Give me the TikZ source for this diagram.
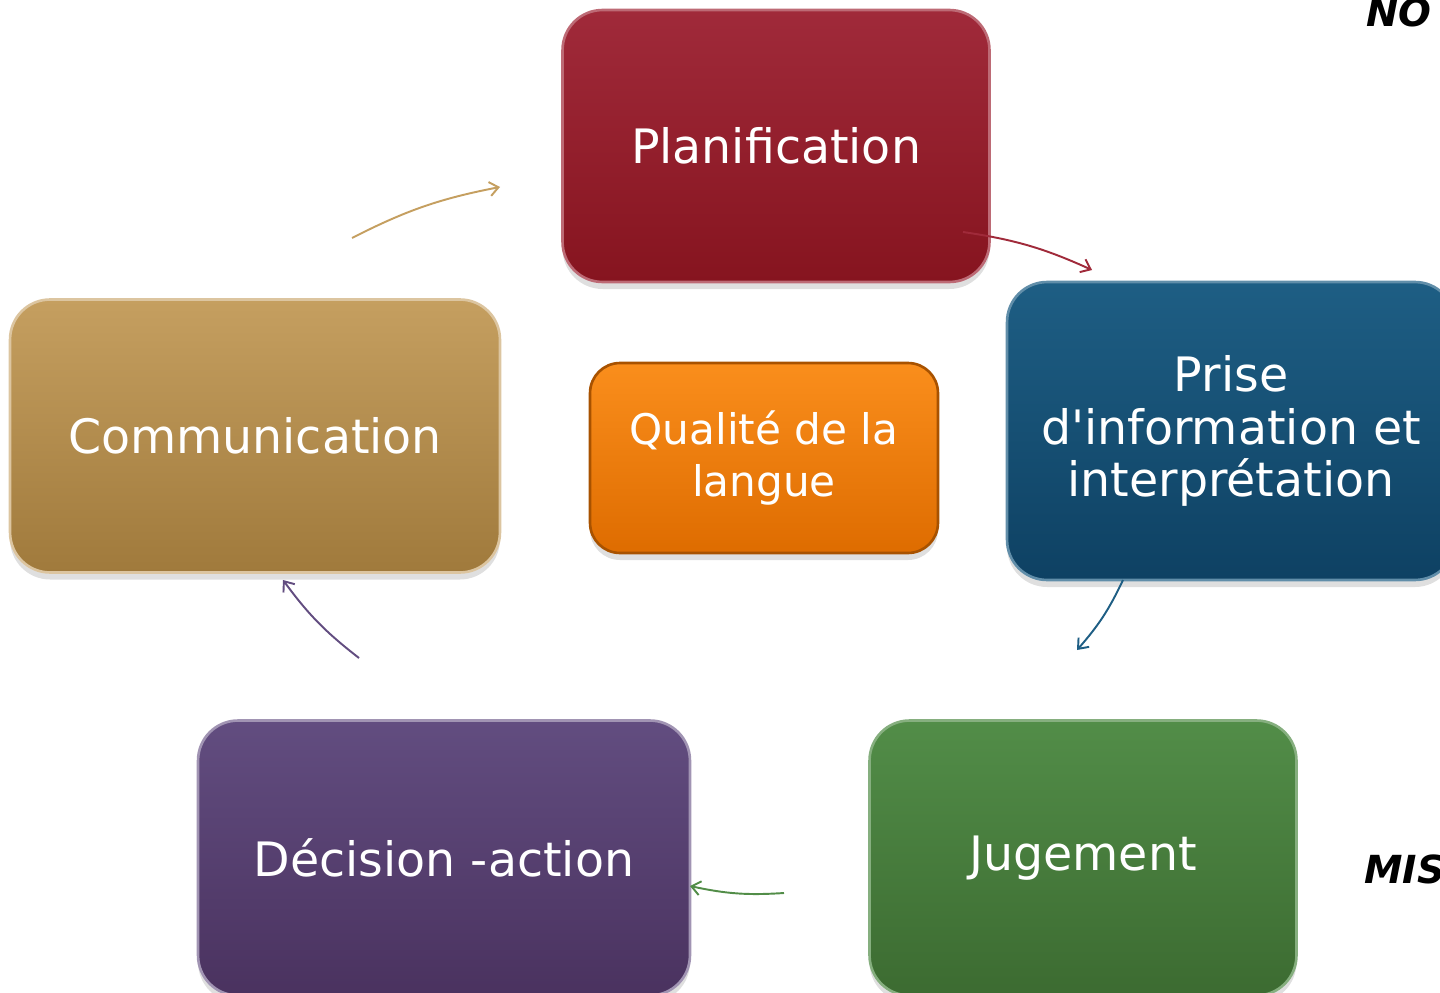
\documentclass[tikz,border=0pt]{standalone}
\usepackage{fontspec}
\setmainfont{DejaVu Sans}
\usepackage{tikz}
\usetikzlibrary{shadows, arrows.meta, positioning}

\definecolor{plantop}{HTML}{A02A3A}
\definecolor{planbot}{HTML}{86141F}
\definecolor{infotop}{HTML}{1E5E84}
\definecolor{infobot}{HTML}{0E4163}
\definecolor{jugetop}{HTML}{528D48}
\definecolor{jugebot}{HTML}{3C6B31}
\definecolor{decitop}{HTML}{624D80}
\definecolor{decibot}{HTML}{4A325F}
\definecolor{commtop}{HTML}{C59F60}
\definecolor{commbot}{HTML}{A07A3C}
\definecolor{qualtop}{HTML}{FA8E1C}
\definecolor{qualbot}{HTML}{DE6C00}
\definecolor{qualrim}{HTML}{A85200}

\begin{document}
\begin{tikzpicture}[
			x=0.02cm, y=-0.02cm,
			block/.style = {rectangle, rounded corners=0.8cm, text=white,
					align=center, font=\fontsize{27}{30}\selectfont,
					line width=1.5pt, inner sep=0pt,
					drop shadow={opacity=0.25, shadow xshift=0pt, shadow yshift=-4pt}},
			planblock/.style = {block, top color=plantop, bottom color=planbot, draw=plantop!70!white},
			infoblock/.style = {block, top color=infotop, bottom color=infobot, draw=infotop!70!white},
			jugeblock/.style = {block, top color=jugetop, bottom color=jugebot, draw=jugetop!70!white},
			deciblock/.style = {block, top color=decitop, bottom color=decibot, draw=decitop!60!white},
			commblock/.style = {block, top color=commtop, bottom color=commbot, draw=commtop!60!white},
			qualblock/.style = {block, rounded corners=0.6cm, top color=qualtop, bottom color=qualbot,
					draw=qualrim, font=\fontsize{24}{30}\selectfont},
			line/.style = {draw, -{Straight Barb[length=5pt, width=8pt]}, line width=1.1pt, bend left=8},
			side/.style = {font=\fontsize{22}{24}\selectfont\bfseries\itshape, anchor=base west},
		]
		\useasboundingbox (0,0) rectangle (1440,993);
		\clip (0,0) rectangle (1440,993);

		% Cycle steps
		\node [planblock, minimum width=8.54cm, minimum height=5.44cm] (plan) at (776,146) {Planification};
		\node [infoblock, minimum width=8.96cm, minimum height=5.96cm] (info) at (1231,431) {Prise\\d\textquotesingle information et\\interprétation};
		\node [jugeblock, minimum width=8.54cm, minimum height=5.5cm] (juge) at (1083,858) {Jugement};
		\node [deciblock, minimum width=9.84cm, minimum height=5.5cm] (deci) at (444,858) {Décision -action};
		\node [commblock, minimum width=9.8cm, minimum height=5.46cm] (comm) at (255,436) {Communication};

		% Centre
		\node [qualblock, minimum width=6.96cm, minimum height=3.8cm] (qual) at (764,458) {Qualité de la\\langue};

		% Side texts (cut by the frame)
		\node [side] (notes) at (1360,27) {NO};
		\node [side] (mise) at (1358,883) {MISE};

		% Arrow ends
		\coordinate (commout) at (352,238);
		\coordinate (planin) at (500,187);
		\coordinate (planout) at (963,232);
		\coordinate (infoin) at (1092,270);
		\coordinate (infoout) at (1123,580);
		\coordinate (jugein) at (1077,650);
		\coordinate (jugeout) at (784,893);
		\coordinate (deciin) at (690,886);
		\coordinate (deciout) at (359,658);
		\coordinate (commin) at (283,580);

		% Draw arrows
		\path [line, color=commtop] (commout) to (planin);
		\path [line, color=plantop] (planout) to (infoin);
		\path [line, color=infotop] (infoout) to (jugein);
		\path [line, color=jugetop] (jugeout) to (deciin);
		\path [line, color=decitop] (deciout) to (commin);

	\end{tikzpicture}
\end{document}
